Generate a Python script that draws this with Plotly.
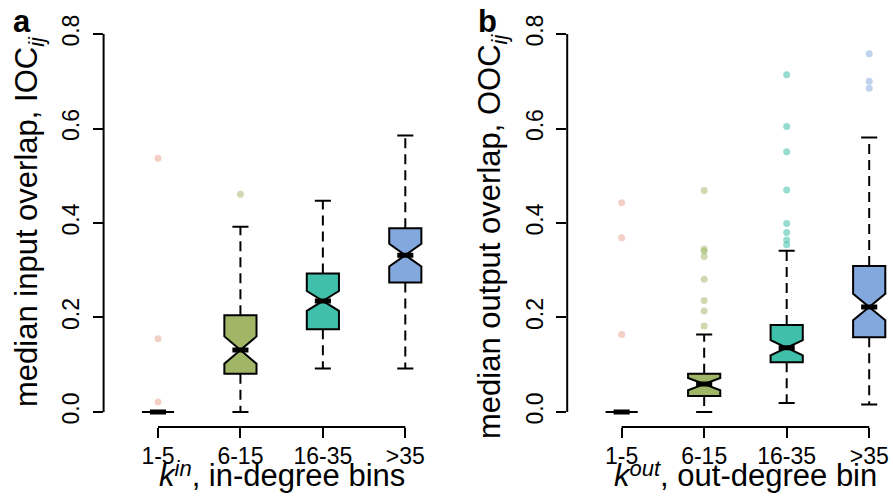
import plotly.graph_objects as go

# ---------------- data ----------------
categories = ["1-5", "6-15", "16-35", ">35"]
positions = [1, 2, 3, 4]
y_ticks = [0.0, 0.2, 0.4, 0.6, 0.8]
y_tick_labels = ["0.0", "0.2", "0.4", "0.6", "0.8"]

# panel a: median input overlap (IOC_ij)
ioc_q1 = [0.0, 0.081, 0.175, 0.274]
ioc_median = [0.0, 0.131, 0.235, 0.332]
ioc_q3 = [0.0, 0.205, 0.293, 0.389]
ioc_whisker_lo = [0.0, 0.0, 0.092, 0.092]
ioc_whisker_hi = [0.0, 0.392, 0.447, 0.585]
ioc_notch = [0.0, 0.029, 0.021, 0.024]
ioc_outliers = [[0.537, 0.155, 0.021], [0.461], [], []]

# panel b: median output overlap (OOC_ij)
ooc_q1 = [0.0, 0.034, 0.105, 0.158]
ooc_median = [0.0, 0.059, 0.136, 0.222]
ooc_q3 = [0.0, 0.081, 0.184, 0.309]
ooc_whisker_lo = [0.0, 0.0, 0.019, 0.016]
ooc_whisker_hi = [0.0, 0.164, 0.341, 0.581]
ooc_notch = [0.0, 0.013, 0.016, 0.028]
ooc_outliers = [
    [0.443, 0.369, 0.164],
    [0.469, 0.345, 0.340, 0.329, 0.281, 0.236, 0.214, 0.182],
    [0.714, 0.604, 0.551, 0.470, 0.399, 0.380, 0.364, 0.354],
    [0.758, 0.700, 0.685],
]

# ---------------- styling ----------------
fill_colors = ["#E8A28F", "#A0B666", "#40BFAA", "#82A8DE"]
outlier_colors = ["rgba(232,162,143,0.5)", "rgba(160,182,102,0.5)",
                  "rgba(64,191,170,0.55)", "rgba(130,168,222,0.5)"]
FONT = "Liberation Sans, Arial, sans-serif"
BOXW = 0.39
W, H = 893, 501

panels = [
    dict(xa="x", ya="y", q1=ioc_q1, med=ioc_median, q3=ioc_q3,
         lo=ioc_whisker_lo, hi=ioc_whisker_hi, notch=ioc_notch, out=ioc_outliers),
    dict(xa="x2", ya="y2", q1=ooc_q1, med=ooc_median, q3=ooc_q3,
         lo=ooc_whisker_lo, hi=ooc_whisker_hi, notch=ooc_notch, out=ooc_outliers),
]

fig = go.Figure()

for p in panels:
    # boxes (notched)
    for i, x in enumerate(positions):
        fig.add_trace(go.Box(
            x=[x], q1=[p["q1"][i]], median=[p["med"][i]], q3=[p["q3"][i]],
            lowerfence=[p["q1"][i]], upperfence=[p["q3"][i]],
            notched=True, notchspan=[p["notch"][i]], notchwidth=0.5,
            width=BOXW, whiskerwidth=0, boxpoints=False,
            fillcolor=fill_colors[i], line=dict(color="black", width=2),
            xaxis=p["xa"], yaxis=p["ya"], showlegend=False, hoverinfo="skip",
        ))
    # dashed whiskers
    wx, wy = [], []
    for i, x in enumerate(positions):
        wx += [x, x, None, x, x, None]
        wy += [p["q3"][i], p["hi"][i], None, p["q1"][i], p["lo"][i], None]
    fig.add_trace(go.Scatter(x=wx, y=wy, mode="lines",
                             line=dict(color="black", width=2, dash="10px,6px"),
                             xaxis=p["xa"], yaxis=p["ya"], showlegend=False, hoverinfo="skip"))
    # staples
    sx, sy = [], []
    for i, x in enumerate(positions):
        for v in (p["hi"][i], p["lo"][i]):
            sx += [x - BOXW / 4, x + BOXW / 4, None]
            sy += [v, v, None]
    fig.add_trace(go.Scatter(x=sx, y=sy, mode="lines",
                             line=dict(color="black", width=2),
                             xaxis=p["xa"], yaxis=p["ya"], showlegend=False, hoverinfo="skip"))
    # thick medians
    mx, my = [], []
    for i, x in enumerate(positions):
        mx += [x - BOXW / 4, x + BOXW / 4, None]
        my += [p["med"][i], p["med"][i], None]
    fig.add_trace(go.Scatter(x=mx, y=my, mode="lines",
                             line=dict(color="black", width=5),
                             xaxis=p["xa"], yaxis=p["ya"], showlegend=False, hoverinfo="skip"))
    # outliers
    for i, x in enumerate(positions):
        if p["out"][i]:
            fig.add_trace(go.Scatter(
                x=[x] * len(p["out"][i]), y=p["out"][i], mode="markers",
                marker=dict(color=outlier_colors[i], size=7, line=dict(width=0)),
                xaxis=p["xa"], yaxis=p["ya"], showlegend=False, hoverinfo="skip"))

# ---------------- axes ----------------
ydom = [1 - 427.1 / H, 1 - 18.9 / H]
xdom_a = [103.6 / W, 459.7 / W]
xdom_b = [567.2 / W, 892.3 / W]

TICKF = dict(size=23, family=FONT, color="black")
common_x = dict(tickvals=positions, ticktext=categories, ticks="outside", ticklen=10,
                tickwidth=2, tickcolor="black", showgrid=False, zeroline=False,
                showline=False, tickfont=TICKF, automargin=False, ticklabelstandoff=-2)
common_y = dict(domain=ydom, range=[-0.032, 0.832], tickvals=y_ticks, ticktext=y_tick_labels,
                tickangle=-90, ticks="outside", ticklen=10, tickwidth=2, tickcolor="black",
                showgrid=False, zeroline=False, showline=False, ticklabelstandoff=4,
                tickfont=TICKF, automargin=False)

fig.update_layout(
    width=W, height=H, autosize=False,
    margin=dict(l=0, r=0, t=0, b=0, pad=0),
    paper_bgcolor="white", plot_bgcolor="white",
    boxmode="overlay",
    font=dict(family=FONT, color="black"),
    xaxis=dict(domain=xdom_a, range=[0.34, 4.66], anchor="y", **common_x),
    yaxis=dict(anchor="x", **common_y),
    xaxis2=dict(domain=xdom_b, range=[0.34, 4.28], anchor="y2", **common_x),
    yaxis2=dict(anchor="x2", **common_y),
)

# R-style axis lines spanning only the tick range
for xa, ya in (("x", "y"), ("x2", "y2")):
    fig.add_shape(type="line", xref=f"{xa} domain", yref=ya, x0=0, x1=0,
                  y0=y_ticks[0], y1=y_ticks[-1], line=dict(color="black", width=2))
    fig.add_shape(type="line", xref=xa, yref=f"{ya} domain", x0=positions[0], x1=positions[-1],
                  y0=0, y1=0, line=dict(color="black", width=2))

# ---------------- texts ----------------
LAB = 31
SUP = '<span style="font-size:22px;baseline-shift:10px"><i>{}</i></span>'
ann = [
    dict(text="<b>a</b>", x=22 / W, y=1 - 21 / H, size=31),
    dict(text="<b>b</b>", x=487 / W, y=1 - 21 / H, size=31),
    dict(text="<i>k</i>" + SUP.format("in") + ", in-degree bins", x=281.6 / W, y=1 - 474 / H, size=LAB),
    dict(text="<i>k</i>" + SUP.format("out") + ", out-degree bin", x=745.5 / W, y=1 - 474 / H, size=LAB),
    dict(text="median input overlap, IOC<sub><i>ij</i></sub>", x=29 / W, y=1 - 222 / H, size=LAB, angle=-90),
    dict(text="median output overlap, OOC<sub><i>ij</i></sub>", x=492 / W, y=1 - 237 / H, size=LAB, angle=-90),
]
for a in ann:
    fig.add_annotation(text=a["text"], x=a["x"], y=a["y"], xref="paper", yref="paper",
                       xanchor="center", yanchor="middle", showarrow=False,
                       textangle=a.get("angle", 0),
                       font=dict(size=a["size"], family=FONT, color="black"))

fig.write_html("out.html", config={"displayModeBar": False},
               post_script="document.body.style.margin='0px';document.body.style.overflow='hidden';")
